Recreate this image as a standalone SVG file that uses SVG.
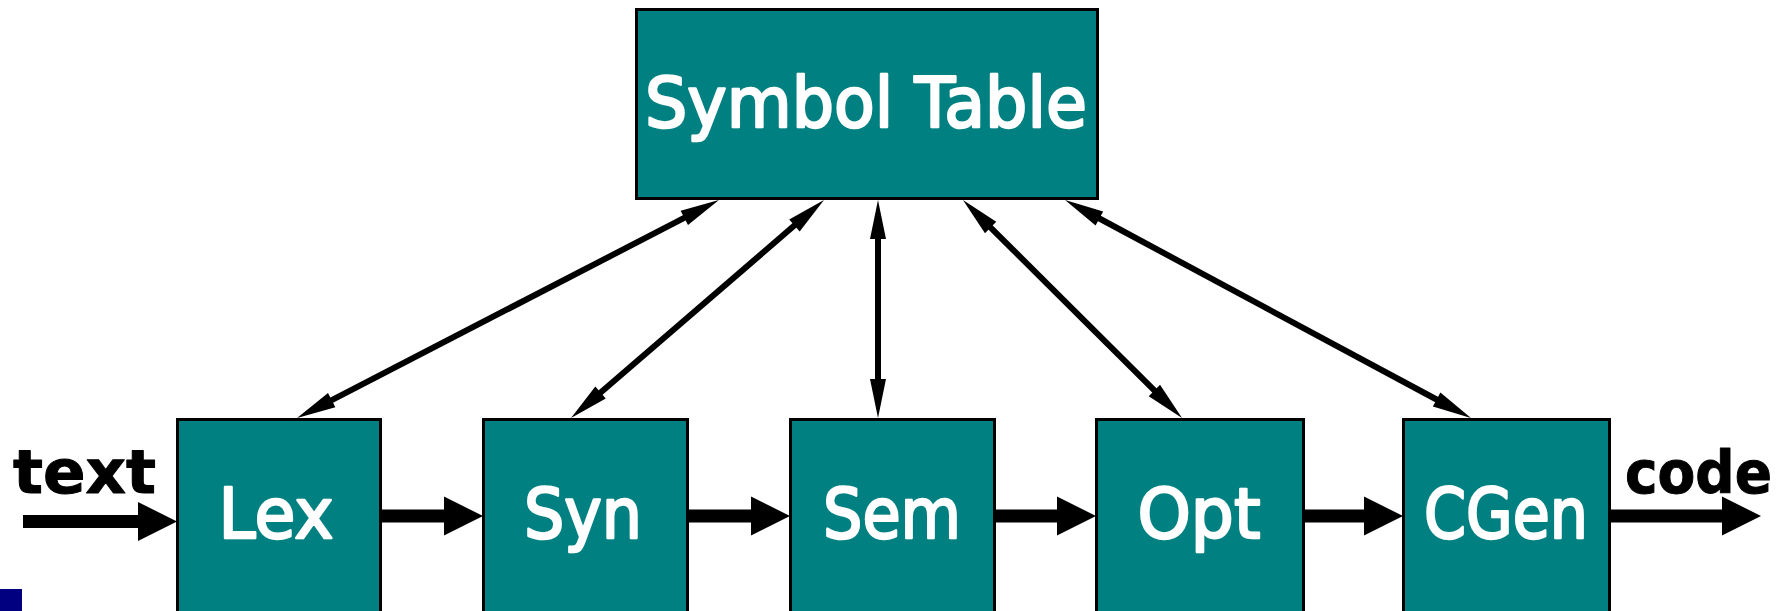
<svg xmlns="http://www.w3.org/2000/svg" width="1792" height="611" viewBox="0 0 1792 611">
<style>
.box{fill:#008080;stroke:#000;stroke-width:3}
.lbl{font-family:"DejaVu Sans","Liberation Sans",sans-serif;font-size:70px;fill:#fff;stroke:#fff;stroke-width:2.5;stroke-linejoin:round;text-anchor:middle}
.io{font-family:"DejaVu Sans","Liberation Sans",sans-serif;font-weight:bold;fill:#000;stroke:#000;stroke-width:1;stroke-linejoin:round}
.thin{stroke:#000;stroke-width:6;fill:none;marker-start:url(#head);marker-end:url(#head)}
.block{stroke:#000;stroke-width:13;fill:none;marker-end:url(#bhead)}
</style>
<defs>
<marker id="head" markerUnits="userSpaceOnUse" markerWidth="42" markerHeight="20" viewBox="0 -10 42 20" refX="1" refY="0" orient="auto-start-reverse" overflow="visible">
<path d="M0,-8 L39,0 L0,8 Z" fill="#000"/>
</marker>
<marker id="bhead" markerUnits="userSpaceOnUse" markerWidth="42" markerHeight="42" viewBox="0 -21 42 42" refX="1" refY="0" orient="auto" overflow="visible">
<path d="M0,-19.5 L39,0 L0,19.5 Z" fill="#000"/>
</marker>
</defs>
<rect width="1792" height="611" fill="#fff"/>
<g id="connectors">
<line class="thin" x1="685.2" y1="217.4" x2="330.8" y2="400.6"/>
<line class="thin" x1="795.2" y1="224.8" x2="599.8" y2="393.2"/>
<line class="thin" x1="878" y1="238" x2="878" y2="380"/>
<line class="thin" x1="989.9" y1="226.8" x2="1155.1" y2="391.2"/>
<line class="thin" x1="1098.5" y1="218" x2="1437.5" y2="400"/>
<line class="block" x1="23" y1="521.5" x2="139" y2="521.5"/>
<line class="block" x1="381" y1="516" x2="445" y2="516"/>
<line class="block" x1="689" y1="516" x2="752" y2="516"/>
<line class="block" x1="994" y1="516" x2="1058" y2="516"/>
<line class="block" x1="1305" y1="516" x2="1365" y2="516"/>
<line class="block" x1="1609" y1="516" x2="1723" y2="516"/>
</g>
<g id="symtab">
<rect class="box" x="636.5" y="9.5" width="461" height="189"/>
<text class="lbl" x="866" y="127" textLength="442" lengthAdjust="spacingAndGlyphs">Symbol Table</text>
</g>
<g id="lex">
<rect class="box" x="177.5" y="419.5" width="203" height="200"/>
<text class="lbl" x="276" y="538" textLength="115" lengthAdjust="spacingAndGlyphs">Lex</text>
</g>
<g id="syn">
<rect class="box" x="483.5" y="419.5" width="204" height="200"/>
<text class="lbl" x="583" y="538" textLength="118" lengthAdjust="spacingAndGlyphs">Syn</text>
</g>
<g id="sem">
<rect class="box" x="790.5" y="419.5" width="204" height="200"/>
<text class="lbl" x="892" y="538" textLength="138" lengthAdjust="spacingAndGlyphs">Sem</text>
</g>
<g id="opt">
<rect class="box" x="1096.5" y="419.5" width="207" height="200"/>
<text class="lbl" x="1199" y="538" textLength="123" lengthAdjust="spacingAndGlyphs">Opt</text>
</g>
<g id="cgen">
<rect class="box" x="1403.5" y="419.5" width="206" height="200"/>
<text class="lbl" x="1506" y="538" textLength="164" lengthAdjust="spacingAndGlyphs">CGen</text>
</g>
<g id="input">
<text class="io" x="13" y="493" font-size="60" textLength="143" lengthAdjust="spacingAndGlyphs">text</text>
</g>
<g id="output">
<text class="io" x="1625" y="493" font-size="58" textLength="147" lengthAdjust="spacingAndGlyphs">code</text>
</g>
<rect x="0" y="589" width="22" height="22" fill="#000080"/>
</svg>
